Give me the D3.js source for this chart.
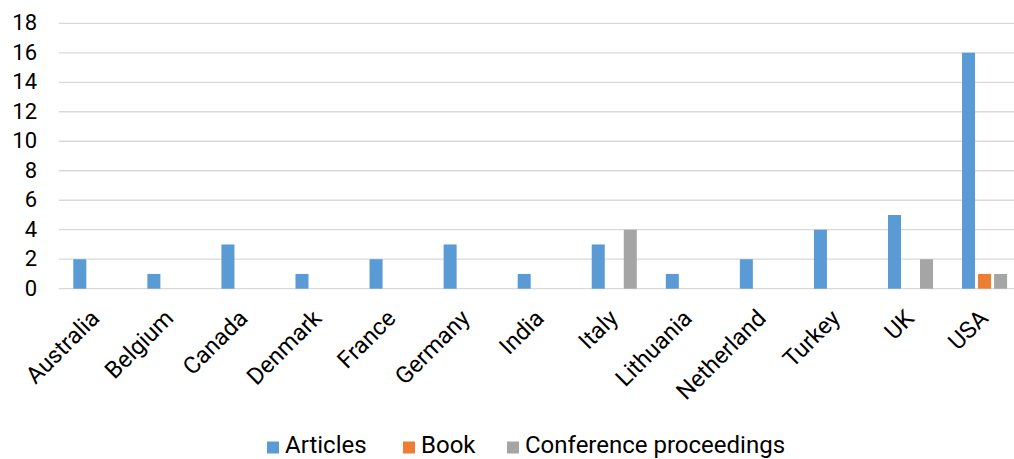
<!DOCTYPE html>
<html>
<head>
<meta charset="utf-8">
<script src="https://cdn.jsdelivr.net/npm/d3@7"></script>
<style>
  html, body { margin: 0; padding: 0; background: #fff; }
  svg { display: block; font-family: Roboto, "Noto Sans", sans-serif; }
</style>
</head>
<body>
<svg id="chart" width="1014" height="459"></svg>
<script>
// Publications per country, split by publication type
const countries = ["Australia", "Belgium", "Canada", "Denmark", "France", "Germany", "India",
                   "Italy", "Lithuania", "Netherland", "Turkey", "UK", "USA"];
const articles = [2, 1, 3, 1, 2, 3, 1, 3, 1, 2, 4, 5, 16];
const books = [0, 0, 0, 0, 0, 0, 0, 0, 0, 0, 0, 0, 1];
const conferenceProceedings = [0, 0, 0, 0, 0, 0, 0, 4, 0, 0, 0, 2, 1];
const seriesNames = ["Articles", "Book", "Conference proceedings"];
const seriesColors = ["#5B9BD5", "#ED7D31", "#A5A5A5"];
const yTicks = [0, 2, 4, 6, 8, 10, 12, 14, 16, 18];

const seriesValues = [articles, books, conferenceProceedings];
const rows = countries.map((c, i) => ({
  country: c,
  values: seriesNames.map((s, k) => ({ series: s, value: seriesValues[k][i], color: seriesColors[k] }))
}));

const svg = d3.select("#chart");
const plot = { left: 58.8, right: 1021.6, top: 23.3, bottom: 288.7 };

const x0 = d3.scaleBand().domain(countries).range([plot.left, plot.right]).padding(0);
const groupInset = 14.5;
const x1 = d3.scaleBand().domain(seriesNames)
  .range([groupInset, x0.bandwidth() - groupInset])
  .paddingInner(0.1875).paddingOuter(0);
const y = d3.scaleLinear().domain([0, 18]).range([plot.bottom, plot.top]);

// horizontal gridlines (including the baseline)
svg.append("g")
  .selectAll("line")
  .data(yTicks)
  .join("line")
  .attr("x1", plot.left)
  .attr("x2", plot.right)
  .attr("y1", d => y(d))
  .attr("y2", d => y(d))
  .attr("stroke", "#D9D9D9")
  .attr("stroke-width", 1.3);

// y axis labels
const yAxis = d3.axisLeft(y).tickValues(yTicks).tickSize(0).tickPadding(0);
const yg = svg.append("g")
  .attr("transform", `translate(37,0)`)
  .call(yAxis);
yg.select(".domain").remove();
yg.selectAll("text")
  .attr("font-family", "Roboto, sans-serif")
  .attr("font-size", 22)
  .attr("fill", "#000")
  .attr("dy", "0.30em");

// bars
const groups = svg.append("g")
  .selectAll("g")
  .data(rows)
  .join("g")
  .attr("transform", d => `translate(${x0(d.country)},0)`);

groups.selectAll("rect")
  .data(d => d.values.filter(v => v.value > 0))
  .join("rect")
  .attr("x", v => x1(v.series))
  .attr("width", x1.bandwidth())
  .attr("y", v => y(v.value))
  .attr("height", v => y(0) - y(v.value))
  .attr("fill", v => v.color);

// x axis labels, rotated
const xAxis = d3.axisBottom(x0).tickSize(0).tickPadding(0);
const xg = svg.append("g")
  .attr("transform", `translate(0,${plot.bottom})`)
  .call(xAxis);
xg.select(".domain").remove();
xg.selectAll(".tick text")
  .attr("font-family", "Roboto, sans-serif")
  .attr("font-size", 23.5)
  .attr("fill", "#000")
  .attr("text-anchor", "end")
  .attr("y", 0)
  .attr("dy", 0)
  .attr("transform", "translate(5,31) rotate(-45)");

// legend
const legendX = [267, 403, 507];
const legend = svg.append("g")
  .selectAll("g")
  .data(seriesNames)
  .join("g")
  .attr("transform", (d, i) => `translate(${legendX[i]},0)`);
legend.append("rect")
  .attr("x", 0)
  .attr("y", 441.5)
  .attr("width", 12)
  .attr("height", 12)
  .attr("fill", (d, i) => seriesColors[i]);
legend.append("text")
  .attr("x", 18)
  .attr("y", 453.3)
  .attr("font-size", 24)
  .attr("fill", "#000")
  .text(d => d);
</script>
</body>
</html>
